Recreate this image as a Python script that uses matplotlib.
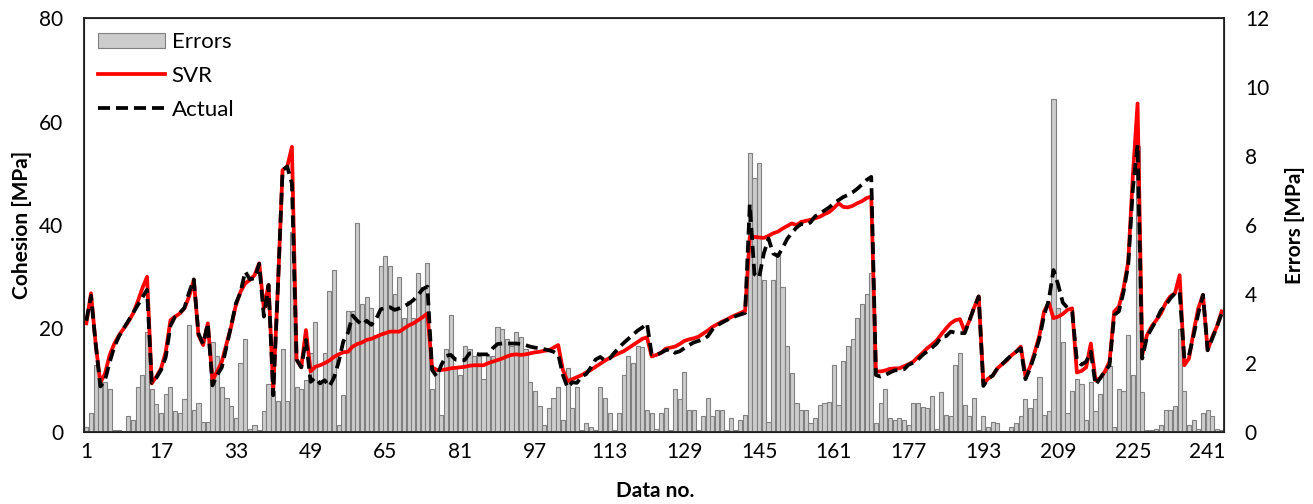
import numpy as np
import matplotlib
matplotlib.use("Agg")
import matplotlib.pyplot as plt
from matplotlib.patches import Patch
from matplotlib.lines import Line2D

# data
data_no = np.arange(1, 245)

errors = [
    0.15, 0.55, 1.95, 1.55, 1.45, 1.25, 0.05, 0.05, 0.04, 0.45,
    0.35, 1.3, 1.65, 2.9, 1.25, 0.8, 0.55, 1.1, 1.3, 0.6,
    0.55, 0.95, 3.1, 0.65, 0.85, 0.3, 0.3, 2.6, 2.2, 1.3,
    0.98, 0.75, 0.4, 2.0, 2.7, 0.1, 0.2, 0.05, 0.6, 1.4,
    1.2, 0.9, 2.4, 0.9, 5.8, 1.3, 1.25, 1.5, 2.3, 3.2,
    1.4, 2.3, 4.1, 4.7, 0.2, 1.07, 3.5, 3.5, 6.05, 3.7,
    3.9, 3.6, 2.8, 4.8, 5.1, 4.8, 4.0, 4.5, 3.3, 3.8,
    3.3, 4.6, 4.2, 4.9, 1.25, 1.8, 0.5, 2.4, 3.4, 1.9,
    1.65, 2.5, 2.4, 2.2, 2.2, 1.55, 2.2, 2.2, 3.05, 3.0,
    2.7, 2.5, 2.9, 2.75, 2.4, 1.45, 1.2, 0.75, 0.2, 0.7,
    1.0, 1.3, 0.35, 1.85, 0.7, 1.3, 0.05, 0.25, 0.15, 0.05,
    1.3, 1.0, 0.55, 0.05, 0.55, 1.65, 2.2, 2.0, 2.5, 2.45,
    0.65, 0.55, 0.1, 0.55, 0.7, 0.05, 1.25, 0.95, 1.75, 0.65,
    0.65, 0.05, 0.45, 1.0, 0.45, 0.65, 0.65, 0.05, 0.4, 0.05,
    0.35, 0.5, 8.1, 7.35, 7.8, 4.4, 0.3, 4.4, 5.2, 4.2,
    2.5, 1.7, 0.85, 0.65, 0.65, 0.25, 0.4, 0.78, 0.83, 0.88,
    1.95, 0.78, 2.05, 2.5, 2.7, 3.3, 3.7, 4.0, 4.6, 0.25,
    0.85, 1.25, 0.4, 0.35, 0.4, 0.35, 0.2, 0.85, 0.83, 0.73,
    0.7, 1.05, 0.1, 1.15, 0.5, 0.45, 1.95, 2.3, 0.78, 0.45,
    1.0, 0.05, 0.45, 0.15, 0.3, 0.25, 0.03, 0.03, 0.15, 0.25,
    0.45, 0.95, 0.7, 0.95, 1.6, 0.5, 0.6, 9.65, 3.6, 2.6,
    0.55, 1.2, 1.55, 1.4, 0.35, 1.45, 0.6, 1.1, 1.75, 1.9,
    0.15, 1.25, 1.2, 2.8, 1.65, 8.3, 1.15, 0.05, 0.05, 0.1,
    0.2, 0.65, 0.65, 0.75, 3.0, 1.2, 0.2, 0.35, 0.1, 0.55,
    0.65, 0.45, 0.1, 0.05,
]

svr = [
    21, 26.8, 17, 9.5, 11.3, 14.9, 17.1, 18.7, 20, 21.3,
    22.9, 25.2, 27.8, 30.0, 9.4, 10.7, 12.3, 15.5, 21.6, 22.3,
    22.9, 23.9, 26.2, 29.4, 18.7, 16.8, 21, 10, 11.7, 13.6,
    17, 20.4, 24.5, 27.1, 28.7, 29.4, 30.3, 32.6, 23.9, 28.4,
    8.1, 28, 50.6, 51.3, 55.1, 14, 12.5, 19.7, 11.7, 12.6,
    12.9, 13.3, 13.8, 14.5, 15, 15.4, 15.5, 16.5, 17, 17.3,
    17.8, 18, 18.4, 18.8, 19.1, 19.4, 19.4, 19.4, 20, 20.6,
    21, 21.6, 22.2, 22.9, 12.5, 12, 12, 12.1, 12.3, 12.4,
    12.5, 12.6, 12.8, 12.9, 12.9, 12.9, 13.3, 13.6, 13.9, 14.2,
    14.6, 14.9, 15, 14.9, 15, 15.2, 15.4, 15.5, 15.7, 15.8,
    16.3, 16.8, 12, 9.8, 10.2, 10.6, 11, 11.5, 12, 12.6,
    13.2, 13.8, 14.3, 14.8, 15.2, 15.6, 16.2, 16.8, 17.4, 18,
    18.3, 14.6, 14.9, 15.3, 16.1, 16.3, 16.5, 17, 17.6, 17.9,
    18.1, 18.4, 19, 19.6, 20.3, 20.8, 21.3, 21.7, 22.2, 22.6,
    23, 23.4, 37.7, 37.7, 37.6, 37.5, 37.9, 38.4, 38.7, 39.3,
    39.8, 40.3, 40, 40.6, 40.8, 41, 41.3, 41.6, 42.1, 42.5,
    43.3, 44.2, 43.5, 43.4, 43.7, 44.2, 44.6, 45.2, 45.5, 11.7,
    11.7, 11.9, 12.2, 12.3, 12.3, 12.7, 13.1, 13.6, 14.5, 15.3,
    16.2, 16.9, 17.7, 18.9, 20, 21, 21.6, 21.8, 19.4, 21.5,
    24, 26.2, 9.3, 10.3, 10.9, 12.3, 13.1, 13.8, 14.8, 15.5,
    16.5, 10.8, 12.6, 15.5, 18.7, 23.3, 25, 22, 22.3, 22.8,
    23.6, 23.9, 11.5, 11.8, 12.5, 17.1, 10, 10.4, 11.7, 13.6,
    23.3, 24.2, 27.8, 32.9, 49.7, 63.5, 14.9, 18.7, 20.4, 21.6,
    22.9, 24.9, 26.2, 26.8, 30.3, 12.9, 14.2, 19.4, 23.9, 26.5,
    15.8, 18.4, 20.4, 23.3,
]

actual = [
    21.5, 26.3, 17, 8.8, 10, 13.5, 16.5, 18.5, 20, 21.5,
    23, 24.5, 26, 27.5, 9.5, 10.5, 12, 14.5, 20.5, 22.3,
    23, 24, 27, 29.5, 19, 17, 21, 9, 11, 12.5,
    16.5, 20.5, 24.8, 27, 31, 29.5, 29.7, 32.5, 22.3, 28.4,
    7.1, 28, 50.6, 51.3, 48, 14, 12.5, 17.8, 9.7, 10.5,
    9.4, 10, 8.8, 10.5, 13.5, 17.5, 19.2, 22.5, 21.5, 20.7,
    21.5, 20.7, 21.8, 23.7, 24, 24.1, 23.6, 23.9, 24.3, 24.8,
    25.5, 26.5, 27.6, 28.1, 12, 10.7, 13, 14.7, 14.9, 14,
    13.9, 13.9, 15.2, 15.2, 15, 15, 15, 16.2, 17, 17.1,
    17.1, 17.1, 17.1, 17, 16.8, 16.5, 16.3, 16.2, 16, 15.8,
    15.5, 15, 11, 8.6, 9.6, 9.5, 10.7, 11.2, 12.5, 14,
    14.5, 13.8, 14.2, 15.3, 16.3, 17.2, 18, 18.8, 19.6, 20.2,
    21, 15, 14.9, 15.3, 15.8, 16, 15.3, 15.6, 16.2, 16.8,
    17.3, 17.6, 17.9, 18.5, 19.8, 20.6, 21.1, 21.6, 22, 22.4,
    22.7, 23, 44, 30.5, 29.8, 34.5, 37.4, 34.5, 34, 35.5,
    37.3, 38.5, 39.5, 40.2, 40, 40.5, 41.7, 42.2, 42.8, 43.4,
    44.2, 44.8, 45.4, 45.8, 46.3, 47, 47.8, 48.7, 49.3, 11,
    10.7, 11, 11.5, 11.9, 12, 12.1, 13, 13.4, 14, 14.9,
    15.6, 16.3, 17.1, 18.4, 18.5, 19.4, 19.2, 19.1, 19.1, 21.5,
    24, 26.2, 8.9, 10.3, 10.9, 12.3, 13.1, 14, 14.8, 15.5,
    16.2, 10.2, 12.3, 15, 18.1, 22.6, 25.5, 31.3, 28.5, 25,
    24, 23.3, 13.8, 13, 13.6, 15.5, 9.1, 10.4, 11.7, 12.9,
    22.6, 23.3, 27.1, 32.3, 47.1, 55.5, 14.2, 18.4, 20, 21.6,
    23.5, 24.5, 25.8, 26.8, 27.1, 14.2, 14.8, 18.7, 22.9, 26.5,
    15.8, 18.1, 20.4, 22.9,
]

x_ticks = list(range(1, 242, 16))

plt.rcParams['font.family'] = ['Lato', 'DejaVu Sans']
fs = 15

W, H = 1313, 504
fig = plt.figure(figsize=(W / 100, H / 100), dpi=100)
ax = fig.add_axes([84 / W, 72 / H, 1140 / W, 414 / H])
ax2 = ax.twinx()

# error bars on the right axis, behind the lines
ax2.bar(data_no, errors, width=0.88, color='#cccccc', edgecolor='#808080', linewidth=0.8)
ax.set_zorder(ax2.get_zorder() + 1)
ax.patch.set_visible(False)

ax.plot(data_no, svr, color='#ff0000', lw=2.7, solid_joinstyle='round')
ax.plot(data_no, actual, color='black', lw=2.7, dashes=(3.2, 1.6), dash_joinstyle='round')

ax.set_xlim(0.5, 244.5)
ax.set_ylim(0, 80)
ax2.set_ylim(0, 12)
ax.set_yticks(range(0, 81, 20))
ax2.set_yticks(range(0, 13, 2))
ax.set_xticks(x_ticks)

ax.tick_params(axis='both', length=0, labelsize=fs)
ax.tick_params(axis='y', pad=15)
ax.tick_params(axis='x', pad=7)
ax2.tick_params(axis='y', length=0, labelsize=fs, pad=15)

for sp in ax.spines.values():
    sp.set_linewidth(1.3)
    sp.set_color('#222222')

# axis titles placed where the reference has them
fig.text(22 / W, 1 - 225 / H, 'Cohesion [MPa]', rotation=90, ha='center', va='center',
         fontsize=fs, fontweight='bold')
fig.text(1295 / W, 1 - 225 / H, 'Errors [MPa]', rotation=90, ha='center', va='center',
         fontsize=fs, fontweight='bold')
fig.text(655 / W, 1 - 491 / H, 'Data no.', ha='center', va='center',
         fontsize=fs, fontweight='bold')

handles = [
    Patch(facecolor='#cccccc', edgecolor='#808080', linewidth=0.8),
    Line2D([], [], color='#ff0000', lw=2.7),
    Line2D([], [], color='black', lw=2.7, dashes=(3.2, 1.6)),
]
ax.legend(handles, ['Errors', 'SVR', 'Actual'], loc='upper left', frameon=False,
          fontsize=fs + 1, handlelength=3.0, handleheight=0.7, handletextpad=0.3,
          labelspacing=0.62, borderaxespad=0.25, bbox_to_anchor=(0.0, 1.0))

fig.savefig('out.png', dpi=100)
